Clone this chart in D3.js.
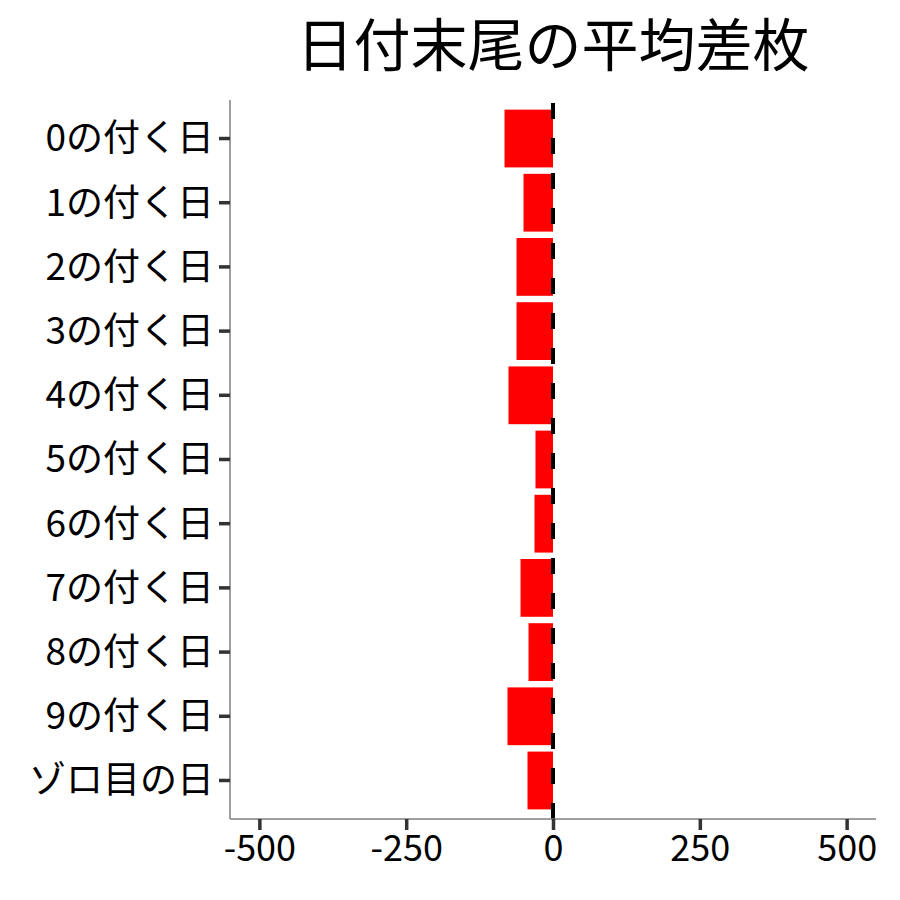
<!DOCTYPE html>
<html>
<head>
<meta charset="utf-8">
<script src="https://cdn.jsdelivr.net/npm/d3@7"></script>
<style>
  body { margin: 0; background: #fff; }
  text { font-family: "Noto Sans CJK JP", "Noto Sans", sans-serif; }
</style>
</head>
<body>
<script>
// data
let categories = ["0の付く日", "1の付く日", "2の付く日", "3の付く日", "4の付く日",
                  "5の付く日", "6の付く日", "7の付く日", "8の付く日", "9の付く日", "ゾロ目の日"];
let values = [-82.6, -50.2, -62.1, -62.1, -75.8, -29.8, -31.5, -55.3, -41.7, -77.5, -43.4];
let xTicks = [-500, -250, 0, 250, 500];
let xLimits = [-500, 500];
let title = "日付末尾の平均差枚";

let width = 900, height = 900;
let panel = { left: 230, right: 876, top: 100, bottom: 819 };

let svg = d3.select("body").append("svg")
  .attr("width", width)
  .attr("height", height);

// ggplot style 5% expansion
let span = xLimits[1] - xLimits[0];
let x = d3.scaleLinear()
  .domain([xLimits[0] - span * 0.05, xLimits[1] + span * 0.05])
  .range([panel.left, panel.right]);

let y = d3.scaleBand()
  .domain(categories)
  .range([panel.top, panel.bottom])
  .paddingInner(0.1)
  .paddingOuter(0.15);

let rows = categories.map(function(c, i) { return { name: c, value: values[i] }; });

// bars
svg.selectAll(".bar")
  .data(rows)
  .enter().append("rect")
  .attr("class", "bar")
  .attr("x", function(d) { return x(Math.min(0, d.value)); })
  .attr("width", function(d) { return Math.abs(x(d.value) - x(0)); })
  .attr("y", function(d) { return y(d.name); })
  .attr("height", y.bandwidth())
  .attr("fill", "#ff0000");

// dashed zero line
svg.append("line")
  .attr("x1", x(0)).attr("x2", x(0))
  .attr("y1", panel.bottom).attr("y2", panel.top)
  .attr("stroke", "#000")
  .attr("stroke-width", 4)
  .attr("stroke-dasharray", "16 19");

// x axis
let xaxis = svg.append("g")
  .attr("transform", "translate(0," + panel.bottom + ")")
  .call(d3.axisBottom(x).tickValues(xTicks).tickSize(11).tickPadding(6)
    .tickFormat(function(d) { return String(d); }));
xaxis.select(".domain")
  .attr("stroke", "#7f7f7f").attr("stroke-width", 1.5)
  .attr("d", "M" + panel.left + ",0H" + panel.right);
xaxis.selectAll(".tick line").attr("stroke", "#333").attr("stroke-width", 3.5);
xaxis.selectAll(".tick text")
  .attr("fill", "#000")
  .style("font-size", "36px")
  .attr("dy", "0.7em");

// y axis
let yaxis = svg.append("g")
  .attr("transform", "translate(" + panel.left + ",0)")
  .call(d3.axisLeft(y).tickSize(11).tickPadding(5));
yaxis.select(".domain")
  .attr("stroke", "#7f7f7f").attr("stroke-width", 1.5)
  .attr("d", "M0," + panel.top + "V" + panel.bottom);
yaxis.selectAll(".tick line").attr("stroke", "#333").attr("stroke-width", 3.5);
yaxis.selectAll(".tick text")
  .attr("fill", "#000")
  .style("font-size", "37px")
  .attr("dy", "0.35em");

// title
svg.append("text")
  .attr("x", (panel.left + panel.right) / 2)
  .attr("y", 41)
  .attr("text-anchor", "middle")
  .attr("dominant-baseline", "central")
  .style("font-size", "57px")
  .attr("fill", "#000")
  .text(title);
</script>
</body>
</html>
